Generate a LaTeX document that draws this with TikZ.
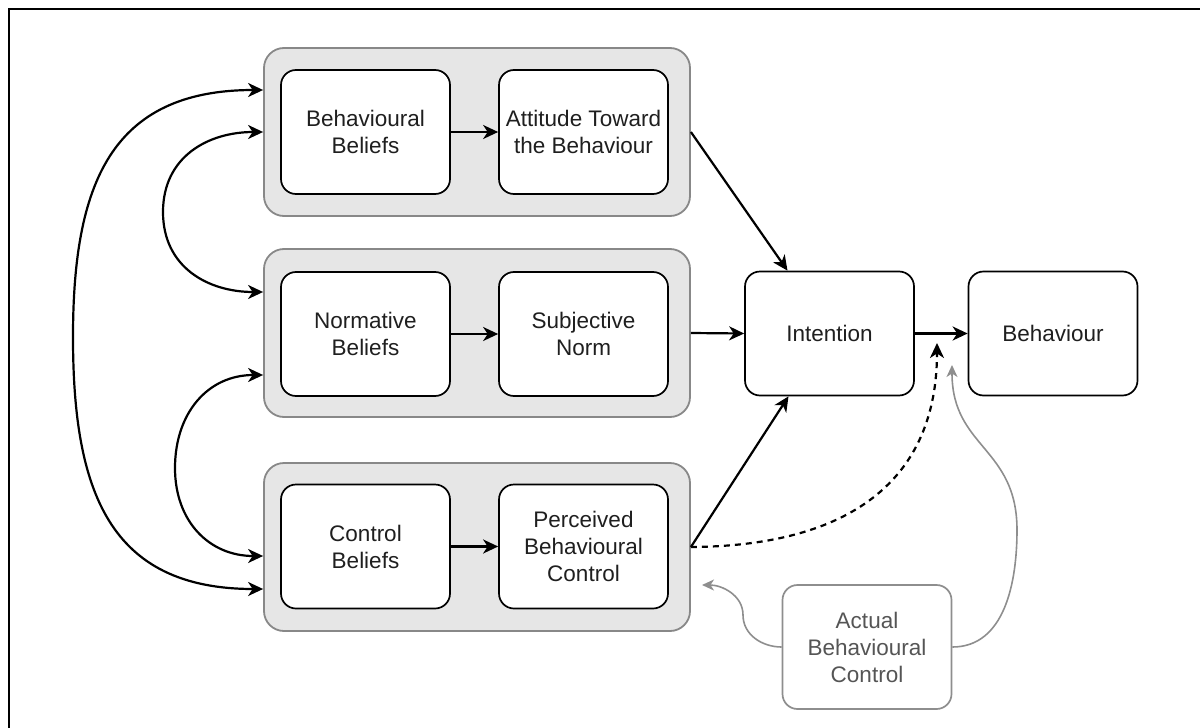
\documentclass[tikz,border=0pt]{standalone}
\usepackage{fontspec}
\setmainfont{Liberation Sans}
\usetikzlibrary{arrows.meta,calc}
\definecolor{grpfill}{HTML}{E6E6E6}
\definecolor{grpline}{HTML}{888888}
\definecolor{softline}{HTML}{8E8E8E}
\definecolor{softtext}{HTML}{555555}

\begin{document}
\begin{tikzpicture}[x=1pt,y=-1pt,
  group/.style={draw=grpline, fill=grpfill, line width=1.8pt, rounded corners=20pt,
    minimum width=426pt, minimum height=168pt, inner sep=0pt},
  box/.style={draw=black, fill=white, line width=1.7pt, rounded corners=15pt,
    minimum width=169pt, minimum height=124pt, inner sep=0pt, align=center,
    font=\fontsize{22.5}{27}\selectfont, text=black!88},
  softbox/.style={box, draw=softline, text=softtext},
  tipb/.tip={Stealth[length=15pt,width=14pt,inset=4.5pt]},
  link/.style={line width=2.2pt, -tipb},
  duallink/.style={line width=2.2pt, tipb-tipb},
  softlink/.style={draw=softline, line width=1.6pt, -{Stealth[length=12pt,width=11pt,inset=3.5pt]}}
]
\useasboundingbox (0,0) rectangle (1200,728);

% frame along the top and left edges
\draw[line width=2pt] (9,728) -- (9,9) -- (1200,9);

% belief groups
\node[group] (g1) at (477,132) {};
\node[group] (g2) at (477,333) {};
\node[group] (g3) at (477,547) {};

% boxes
\node[box] (bb)  at (365.5,132)   {Behavioural\\Beliefs};
\node[box] (att) at (583.5,132)   {Attitude Toward\\the Behaviour};
\node[box] (nb)  at (365.5,334)   {Normative\\Beliefs};
\node[box] (sn)  at (583.5,334)   {Subjective\\Norm};
\node[box] (cb)  at (365.5,546.5) {Control\\Beliefs};
\node[box] (pbc) at (583.5,546.5) {Perceived\\Behavioural\\Control};
\node[box] (int) at (829.5,333.5) {Intention};
\node[box] (beh) at (1053,333.5)  {Behaviour};
\node[softbox] (abc) at (867,647) {Actual\\Behavioural\\Control};

% free ends of the curved arrows
\coordinate (dtip) at (937,343);
\coordinate (atip) at (952,365);
\coordinate (ptip) at (702,585);

% arrows inside the groups
\draw[link] (bb.east) -- (att.west);
\draw[link] (nb.east) -- (sn.west);
\draw[link] (cb.east) -- (pbc.west);

% correlations between the belief groups
\draw[duallink] ([yshift=42pt]g1.west) to[out=180,in=90,looseness=1.25] (73,337)
  to[out=-90,in=180,looseness=1.25] ([yshift=-42pt]g3.west);
\draw[duallink] (g1.west) to[out=180,in=90,looseness=1.1] (163,212)
  to[out=-90,in=180,looseness=1.1] ([yshift=41pt]g2.west);
\draw[duallink] ([yshift=-42pt]g2.west) to[out=180,in=90,looseness=1.1] (175,468)
  to[out=-90,in=180,looseness=1.1] ([yshift=-9pt]g3.west);

% paths to intention and behaviour
\draw[link] (g1.east) -- ([xshift=-42pt]int.north);
\draw[link] (g2.east) -- (int.west);
\draw[link] (g3.east) -- ([xshift=-41pt]int.south);
\draw[link] (int.east) -- (beh.west);
\draw[line width=2.2pt, dash pattern=on 6pt off 5pt, -tipb]
  (g3.east) .. controls (850,546) and (937,480) .. (dtip);

% actual behavioural control
\draw[softlink] (abc.west) to[out=180,in=-90] (743,615) to[out=90,in=0] (ptip);
\draw[softlink] (abc.east) to[out=0,in=-90] (1017,530)
  to[out=90,in=-90,looseness=1.2] (atip);
\end{tikzpicture}
\end{document}
